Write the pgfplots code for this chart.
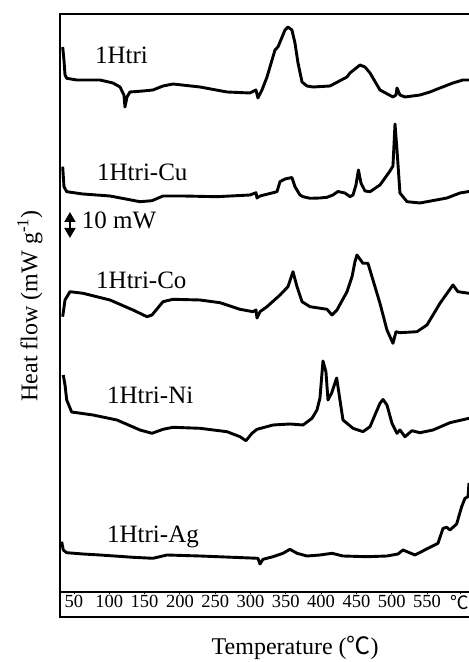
\documentclass[border=0pt]{standalone}
\usepackage{fontspec}
\setmainfont{Liberation Serif}
\newfontfamily\cjk{Noto Sans CJK SC}
\usepackage{pgfplots}
\pgfplotsset{compat=1.18}
\usetikzlibrary{arrows.meta}
\begin{document}
\begin{tikzpicture}
\begin{axis}[
  at={(60bp,45bp)}, anchor=south west,
  width=409bp, height=603bp, scale only axis,
  xmin=30.2, xmax=609.5, ymin=-25, ymax=578,
  axis x line=middle, axis y line=none,
  x axis line style={-, line width=1.4bp},
  xtick={50,100,...,550,597},
  xticklabels={50,100,150,200,250,300,350,400,450,500,550,{\cjk ℃}},
  minor xtick={40,60,70,80,90,110,120,130,140,160,170,180,190,210,220,230,240,260,270,280,290,310,320,330,340,360,370,380,390,410,420,430,440,460,470,480,490,510,520,530,540,560,570,580,590},
  tick align=outside,
  major tick length=2bp, minor tick length=1.5bp,
  every tick/.style={line width=0.8bp, black},
  xticklabel style={font=\fontsize{18.5bp}{20bp}\selectfont, inner sep=1bp},
  ytick=\empty,
  clip mode=individual,
  /pgf/number format/assume math mode=true,
]
% frame (left, top, bottom)
\draw[line width=2.8bp] (rel axis cs:1,1) -- (rel axis cs:0,1) -- (rel axis cs:0,0) -- (rel axis cs:1,0);

% 1Htri
\addplot[black, line width=2.9bp, line join=round] coordinates {
(34.0,545) (35.8,532) (37.3,517) (39.7,513.7) (53.8,512) (86.8,512) (105.2,509) (115.2,505) (120.8,497) (122.2,485) (125.1,495) (129.3,500) (147.7,501) (161.9,502) (176.1,506) (190.2,508) (228.5,505) (266.7,500) (299.3,499) (307.8,502) (310.6,494) (316.3,502) (323.4,515) (334.7,542) (338.9,545) (348.9,562) (353.1,565) (358.7,562) (363.0,549) (367.3,529) (373.0,510) (380.0,506) (388.5,505) (412.6,506) (436.7,515) (440.9,519) (455.1,527) (462.2,525) (469.3,519) (483.4,502) (501.8,495) (506.1,497) (507.5,504) (511.7,497) (518.8,495) (540.1,497) (554.2,500) (568.4,504) (586.8,509) (600.9,512) (609.5,512)
};
% 1Htri-Cu
\addplot[black, line width=2.9bp, line join=round] coordinates {
(34.0,425.3) (35.8,405.3) (39.7,400.3) (62.7,398) (101.0,396) (143.5,390.3) (160.5,391.3) (176.1,396) (204.4,396) (252.5,395.3) (299.3,397) (307.8,399.3) (309.2,394) (313.5,396) (337.5,400.3) (341.8,410.3) (348.9,413) (358.7,414.5) (363.0,405.3) (370.1,397) (374.4,395.3) (384.3,393.7) (398.4,394) (408.4,394.7) (416.8,397) (423.9,400.5) (433.8,399) (440.9,395.3) (445.2,397) (449.4,407) (452.9,422) (456.5,409) (462.2,401) (469.3,400.3) (483.4,407) (497.6,421) (501.8,426) (504.7,468) (507.5,442) (511.7,399) (521.7,390.3) (540.1,389) (578.3,394) (596.7,399) (609.5,400.5)
};
% 1Htri-Co
\addplot[black, line width=2.9bp, line join=round] coordinates {
(34.0,275.3) (37.3,292) (44.3,300.3) (62.7,298.7) (101.0,292) (133.6,282) (153.4,275.3) (160.5,277) (176.1,290.3) (190.2,292.7) (228.5,292) (256.8,289.3) (285.1,282.7) (303.5,280.3) (307.8,282) (309.2,274) (313.5,280.3) (323.4,285.3) (341.8,297) (353.1,305.3) (360.2,320.3) (365.9,305.3) (373.0,290.3) (384.3,285.3) (408.4,282.7) (415.4,277) (422.5,282) (436.7,300.3) (443.8,315.3) (448.0,330.3) (450.8,337) (459.3,328.7) (466.4,328.7) (473.5,312) (483.4,288.7) (493.3,262) (501.8,248.7) (506.1,260.3) (511.7,259.3) (535.8,260.3) (550.0,267) (568.4,288.7) (586.8,307) (593.8,300.3) (609.5,298.7)
};
% 1Htri-Ni
\addplot[black, line width=2.9bp, line join=round] coordinates {
(34.8,217) (37.3,207) (39.7,192) (46.7,180) (76.9,177) (110.9,172) (143.5,162) (160.5,158.7) (176.1,162.7) (190.2,164.7) (228.5,163.7) (266.7,160.3) (285.1,155.3) (293.6,151.3) (302.1,158.7) (309.2,162.7) (331.9,167) (355.9,168) (374.4,167) (387.1,173.7) (394.2,182) (398.4,194) (402.7,231) (406.9,220) (409.8,192) (415.0,199) (422.1,214) (425.3,198.7) (431.0,172) (445.2,163.7) (459.3,160.3) (469.3,165.3) (476.3,177) (483.4,188.7) (487.7,192.5) (493.3,187) (500.4,168.7) (507.5,158.7) (511.7,162) (518.8,155.3) (528.7,161.3) (540.1,159.3) (558.5,162) (582.6,169.3) (609.5,173.7)
};
% 1Htri-Ag
\addplot[black, line width=2.9bp, line join=round] coordinates {
(32.6,50.3) (34.8,42) (39.7,39.3) (62.7,38) (86.8,37) (133.6,34.7) (161.9,33.7) (181.7,37) (228.5,36) (275.2,34.7) (310.6,33.7) (313.5,28) (317.7,32.7) (331.9,35.3) (346.0,38.7) (355.9,42.7) (365.9,38.7) (380.0,36) (398.4,37) (415.4,38.7) (431.0,36) (465.0,35.3) (493.3,36) (508.9,38) (516.0,42) (533.0,37) (554.2,44.7) (565.6,48.7) (572.7,63.7) (577.9,64.7) (582.6,62) (592.0,68) (599.1,85.3) (603.8,93.7) (608.1,95.3) (609.5,109)
};

% curve labels
\node[anchor=west, inner sep=0pt, font=\fontsize{25bp}{28bp}\selectfont] at (axis cs:79.7,537) {1Htri};
\node[anchor=west, inner sep=0pt, font=\fontsize{25bp}{28bp}\selectfont] at (axis cs:82.6,420) {1Htri-Cu};
\node[anchor=west, inner sep=0pt, font=\fontsize{25bp}{28bp}\selectfont] at (axis cs:81.2,312) {1Htri-Co};
\node[anchor=west, inner sep=0pt, font=\fontsize{25bp}{28bp}\selectfont] at (axis cs:96.7,197) {1Htri-Ni};
\node[anchor=west, inner sep=0pt, font=\fontsize{25bp}{28bp}\selectfont] at (axis cs:96.7,55) {1Htri-Ag};

% scale bar
\draw[line width=1.8bp, {Triangle[length=10bp,width=11bp]}-{Triangle[length=10bp,width=11bp]}] (axis cs:44.3,354) -- (axis cs:44.3,380);
\node[anchor=west, inner sep=0pt, font=\fontsize{25bp}{28bp}\selectfont] at (axis cs:61,372) {10 mW};

% axis labels
\node[rotate=90, font=\fontsize{24bp}{28bp}\selectfont] at (rel axis cs:-0.0733,0.516) {Heat flow (mW g\textsuperscript{-1})};
\node[font=\fontsize{24bp}{28bp}\selectfont] at (rel axis cs:0.575,-0.051) {Temperature ({\cjk ℃})};
\end{axis}
\pgfresetboundingbox
\path[use as bounding box] (0,0) rectangle (469bp,662bp);
\end{tikzpicture}
\end{document}
